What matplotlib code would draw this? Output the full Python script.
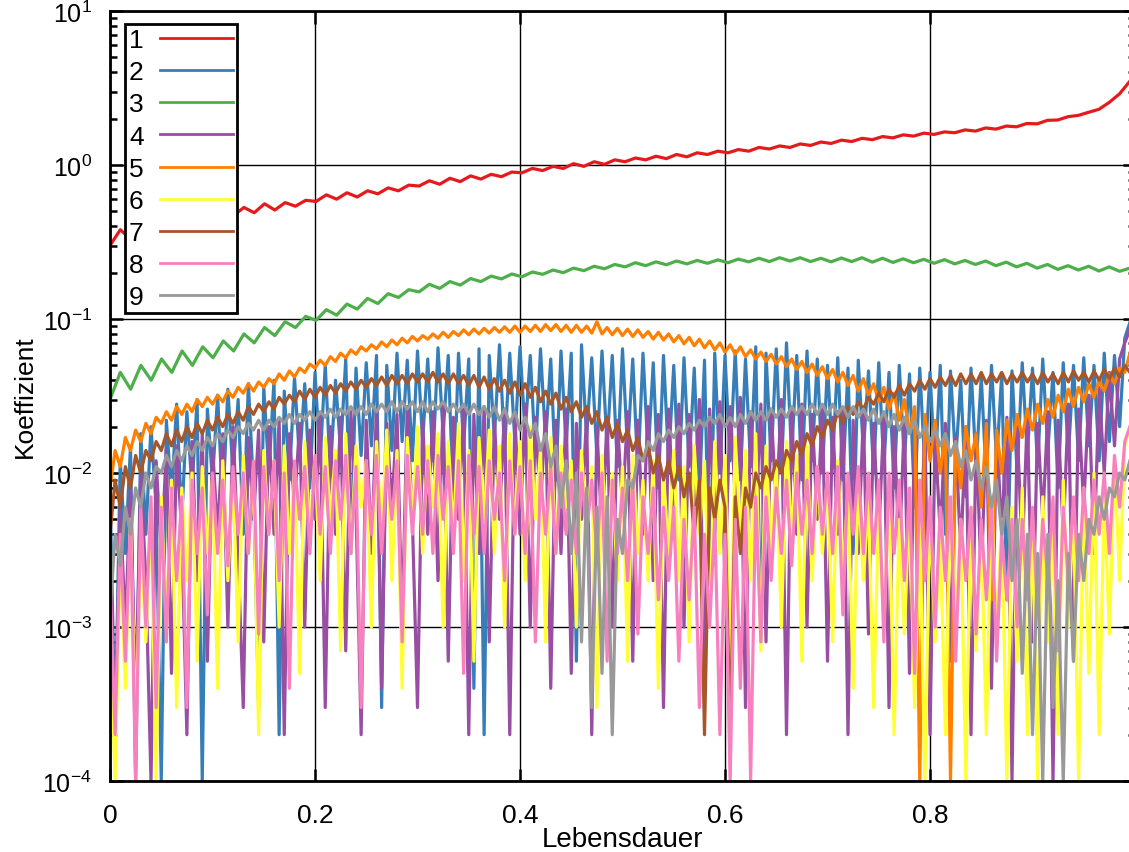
import numpy as np
import matplotlib
matplotlib.use("Agg")
import matplotlib.pyplot as plt

plt.rcParams['font.family'] = ['Liberation Sans', 'DejaVu Sans']
plt.rcParams['mathtext.fontset'] = 'custom'
plt.rcParams['mathtext.rm'] = 'Liberation Sans'
plt.rcParams['mathtext.it'] = 'Liberation Sans:italic'
plt.rcParams['mathtext.bf'] = 'Liberation Sans:bold'

# sample positions (Lebensdauer): coarse grid for the smooth curves, fine grid for the noisy ones
lebensdauer_grob = np.linspace(0.0, 0.995, 100)
lebensdauer_fein = np.linspace(0.0, 0.995, 200)

labels = ["1", "2", "3", "4", "5", "6", "7", "8", "9"]
colors = ["#e41a1c", "#377eb8", "#4daf4a", "#984ea3", "#ff7f00",
          "#ffff33", "#a65628", "#f781bf", "#999999"]

s1 = [0.30, 0.38, 0.33, 0.41, 0.36, 0.44, 0.39, 0.46, 0.42, 0.47,
      0.45, 0.52, 0.47, 0.53, 0.49, 0.56, 0.51, 0.57, 0.54, 0.59,
      0.58, 0.64, 0.60, 0.66, 0.62, 0.68, 0.65, 0.71, 0.68, 0.74,
      0.73, 0.79, 0.75, 0.82, 0.78, 0.85, 0.81, 0.87, 0.84, 0.90,
      0.89, 0.95, 0.92, 0.98, 0.95, 1.02, 0.98, 1.05, 1.01, 1.08,
      1.05, 1.11, 1.08, 1.14, 1.10, 1.17, 1.13, 1.20, 1.17, 1.23,
      1.20, 1.26, 1.23, 1.30, 1.27, 1.33, 1.30, 1.37, 1.34, 1.41,
      1.38, 1.45, 1.42, 1.49, 1.46, 1.53, 1.50, 1.57, 1.54, 1.61,
      1.58, 1.64, 1.62, 1.69, 1.66, 1.74, 1.71, 1.79, 1.77, 1.86,
      1.85, 1.95, 1.96, 2.06, 2.10, 2.20, 2.30, 2.55, 2.90, 3.50]

s3 = [0.030, 0.045, 0.035, 0.050, 0.040, 0.055, 0.045, 0.062, 0.050, 0.066,
      0.056, 0.072, 0.062, 0.080, 0.070, 0.088, 0.078, 0.096, 0.088, 0.104,
      0.098, 0.115, 0.106, 0.125, 0.116, 0.136, 0.126, 0.146, 0.138, 0.155,
      0.150, 0.168, 0.158, 0.175, 0.166, 0.183, 0.175, 0.190, 0.182, 0.196,
      0.188, 0.202, 0.195, 0.208, 0.200, 0.214, 0.206, 0.220, 0.212, 0.226,
      0.218, 0.232, 0.222, 0.235, 0.225, 0.238, 0.228, 0.240, 0.230, 0.242,
      0.232, 0.245, 0.235, 0.248, 0.236, 0.250, 0.238, 0.250, 0.236, 0.248,
      0.235, 0.249, 0.236, 0.250, 0.234, 0.248, 0.233, 0.246, 0.232, 0.244,
      0.230, 0.243, 0.228, 0.240, 0.226, 0.238, 0.222, 0.234, 0.218, 0.230,
      0.214, 0.226, 0.210, 0.222, 0.208, 0.220, 0.205, 0.218, 0.204, 0.214]

s2 = [0.008, 0.0002, 0.012, 0.003, 0.015, 0.0001, 0.018, 0.004, 0.020, 0.006,
      0.0001, 0.022, 0.007, 0.028, 0.005, 0.025, 0.008, 0.030, 0.0001, 0.026,
      0.009, 0.032, 0.006, 0.035, 0.010, 0.030, 0.004, 0.038, 0.008, 0.0003,
      0.036, 0.010, 0.040, 0.0002, 0.034, 0.009, 0.042, 0.012, 0.038, 0.008,
      0.045, 0.012, 0.050, 0.010, 0.040, 0.014, 0.055, 0.003, 0.048, 0.013,
      0.052, 0.015, 0.058, 0.0003, 0.050, 0.014, 0.060, 0.016, 0.054, 0.012,
      0.062, 0.016, 0.055, 0.012, 0.065, 0.018, 0.058, 0.006, 0.060, 0.015,
      0.055, 0.0004, 0.064, 0.0002, 0.058, 0.017, 0.068, 0.014, 0.060, 0.016,
      0.066, 0.018, 0.058, 0.013, 0.064, 0.016, 0.055, 0.009, 0.062, 0.015,
      0.060, 0.0006, 0.068, 0.017, 0.056, 0.013, 0.062, 0.015, 0.058, 0.011,
      0.064, 0.014, 0.055, 0.010, 0.060, 0.013, 0.052, 0.008, 0.058, 0.012,
      0.050, 0.009, 0.056, 0.011, 0.048, 0.007, 0.054, 0.0015, 0.060, 0.010,
      0.058, 0.012, 0.062, 0.009, 0.055, 0.011, 0.066, 0.0008, 0.060, 0.012,
      0.064, 0.010, 0.070, 0.013, 0.058, 0.009, 0.062, 0.012, 0.055, 0.010,
      0.050, 0.012, 0.056, 0.009, 0.048, 0.003, 0.054, 0.014, 0.046, 0.010,
      0.052, 0.011, 0.045, 0.008, 0.050, 0.012, 0.044, 0.006, 0.048, 0.011,
      0.045, 0.010, 0.050, 0.004, 0.046, 0.012, 0.040, 0.007, 0.048, 0.011,
      0.042, 0.009, 0.050, 0.012, 0.044, 0.0015, 0.046, 0.010, 0.052, 0.013,
      0.048, 0.011, 0.055, 0.014, 0.045, 0.008, 0.052, 0.013, 0.050, 0.012,
      0.056, 0.015, 0.050, 0.012, 0.060, 0.016, 0.058, 0.020, 0.075, 0.095]

s4 = [0.003, 0.0002, 0.006, 0.001, 0.008, 0.0003, 0.010, 0.002, 0.0001, 0.012,
      0.003, 0.014, 0.0005, 0.015, 0.004, 0.0002, 0.016, 0.002, 0.018, 0.0006,
      0.015, 0.004, 0.018, 0.001, 0.020, 0.003, 0.0003, 0.017, 0.005, 0.019,
      0.0008, 0.020, 0.004, 0.022, 0.0002, 0.018, 0.006, 0.021, 0.001, 0.019,
      0.005, 0.024, 0.0003, 0.020, 0.004, 0.023, 0.0007, 0.025, 0.006, 0.0002,
      0.022, 0.003, 0.026, 0.0004, 0.021, 0.006, 0.024, 0.001, 0.027, 0.005,
      0.0003, 0.022, 0.004, 0.025, 0.002, 0.028, 0.0006, 0.023, 0.005, 0.026,
      0.0002, 0.024, 0.003, 0.027, 0.0008, 0.022, 0.005, 0.026, 0.0002, 0.024,
      0.004, 0.028, 0.001, 0.023, 0.006, 0.025, 0.0004, 0.022, 0.003, 0.026,
      0.0005, 0.021, 0.005, 0.024, 0.0002, 0.020, 0.004, 0.023, 0.001, 0.022,
      0.006, 0.025, 0.0006, 0.022, 0.004, 0.027, 0.002, 0.024, 0.0003, 0.026,
      0.005, 0.028, 0.001, 0.024, 0.006, 0.030, 0.0004, 0.026, 0.004, 0.029,
      0.002, 0.027, 0.007, 0.031, 0.0003, 0.025, 0.005, 0.028, 0.0008, 0.026,
      0.006, 0.030, 0.0002, 0.025, 0.004, 0.028, 0.001, 0.024, 0.005, 0.027,
      0.0006, 0.023, 0.004, 0.026, 0.0002, 0.022, 0.003, 0.024, 0.0009, 0.021,
      0.004, 0.023, 0.0003, 0.020, 0.003, 0.022, 0.0005, 0.019, 0.002, 0.021,
      0.0002, 0.018, 0.004, 0.021, 0.0006, 0.017, 0.003, 0.020, 0.0002, 0.018,
      0.002, 0.022, 0.0004, 0.019, 0.004, 0.023, 0.0001, 0.020, 0.003, 0.024,
      0.0008, 0.021, 0.005, 0.025, 0.0001, 0.022, 0.004, 0.028, 0.0006, 0.026,
      0.006, 0.032, 0.003, 0.036, 0.010, 0.045, 0.015, 0.055, 0.070, 0.085]

s5 = [0.008, 0.014, 0.011, 0.017, 0.014, 0.019, 0.016, 0.021, 0.018, 0.023,
      0.021, 0.025, 0.022, 0.027, 0.024, 0.028, 0.025, 0.030, 0.027, 0.031,
      0.028, 0.032, 0.029, 0.034, 0.031, 0.036, 0.033, 0.038, 0.034, 0.039,
      0.036, 0.041, 0.038, 0.044, 0.040, 0.046, 0.042, 0.048, 0.045, 0.051,
      0.048, 0.054, 0.050, 0.057, 0.053, 0.060, 0.056, 0.063, 0.059, 0.066,
      0.062, 0.068, 0.064, 0.071, 0.066, 0.073, 0.068, 0.075, 0.070, 0.077,
      0.072, 0.078, 0.074, 0.080, 0.075, 0.082, 0.076, 0.083, 0.078, 0.085,
      0.079, 0.086, 0.080, 0.087, 0.081, 0.088, 0.082, 0.089, 0.082, 0.090,
      0.082, 0.090, 0.083, 0.091, 0.083, 0.092, 0.084, 0.092, 0.083, 0.091,
      0.082, 0.091, 0.082, 0.090, 0.081, 0.096, 0.080, 0.088, 0.079, 0.087,
      0.078, 0.086, 0.077, 0.085, 0.076, 0.083, 0.074, 0.082, 0.073, 0.080,
      0.071, 0.078, 0.069, 0.076, 0.067, 0.074, 0.065, 0.072, 0.063, 0.070,
      0.061, 0.068, 0.059, 0.066, 0.057, 0.063, 0.055, 0.061, 0.053, 0.059,
      0.051, 0.057, 0.049, 0.055, 0.047, 0.053, 0.045, 0.051, 0.043, 0.049,
      0.041, 0.047, 0.039, 0.045, 0.037, 0.043, 0.034, 0.041, 0.032, 0.038,
      0.029, 0.036, 0.026, 0.033, 0.022, 0.030, 0.018, 0.027, 0.0001, 0.024,
      0.012, 0.022, 0.010, 0.018, 0.0001, 0.016, 0.008, 0.020, 0.012, 0.018,
      0.006, 0.021, 0.0015, 0.019, 0.010, 0.022, 0.014, 0.024, 0.017, 0.026,
      0.019, 0.028, 0.021, 0.030, 0.023, 0.032, 0.025, 0.035, 0.027, 0.036,
      0.029, 0.038, 0.031, 0.040, 0.034, 0.044, 0.038, 0.048, 0.045, 0.060]

s6 = [0.001, 0.0001, 0.003, 0.0004, 0.005, 0.0002, 0.004, 0.0008, 0.006, 0.0001,
      0.007, 0.001, 0.009, 0.0003, 0.008, 0.002, 0.010, 0.0006, 0.011, 0.003,
      0.009, 0.0004, 0.012, 0.002, 0.010, 0.0008, 0.013, 0.003, 0.011, 0.0002,
      0.014, 0.004, 0.012, 0.001, 0.015, 0.003, 0.011, 0.0005, 0.016, 0.004,
      0.013, 0.002, 0.017, 0.005, 0.014, 0.0007, 0.018, 0.003, 0.015, 0.006,
      0.012, 0.001, 0.016, 0.004, 0.019, 0.002, 0.014, 0.0004, 0.017, 0.005,
      0.020, 0.003, 0.015, 0.006, 0.018, 0.001, 0.016, 0.004, 0.021, 0.002,
      0.014, 0.0006, 0.017, 0.005, 0.019, 0.003, 0.015, 0.001, 0.018, 0.004,
      0.016, 0.002, 0.020, 0.005, 0.014, 0.0008, 0.017, 0.003, 0.015, 0.006,
      0.012, 0.001, 0.014, 0.004, 0.011, 0.0003, 0.013, 0.003, 0.010, 0.002,
      0.011, 0.0006, 0.013, 0.003, 0.009, 0.002, 0.012, 0.0004, 0.010, 0.003,
      0.014, 0.002, 0.011, 0.0008, 0.015, 0.004, 0.012, 0.001, 0.016, 0.003,
      0.013, 0.0005, 0.017, 0.004, 0.014, 0.002, 0.018, 0.0007, 0.015, 0.003,
      0.012, 0.001, 0.016, 0.004, 0.013, 0.0006, 0.015, 0.002, 0.011, 0.003,
      0.010, 0.0008, 0.012, 0.002, 0.008, 0.0004, 0.009, 0.002, 0.007, 0.0003,
      0.006, 0.001, 0.008, 0.0002, 0.005, 0.0009, 0.007, 0.0003, 0.005, 0.0001,
      0.006, 0.0008, 0.004, 0.0002, 0.007, 0.001, 0.005, 0.0001, 0.006, 0.0007,
      0.004, 0.0002, 0.007, 0.0009, 0.005, 0.0001, 0.006, 0.0006, 0.008, 0.0002,
      0.005, 0.0001, 0.007, 0.0008, 0.004, 0.0002, 0.009, 0.001, 0.006, 0.0001,
      0.008, 0.0005, 0.010, 0.0002, 0.007, 0.0009, 0.012, 0.002, 0.015, 0.020]

s7 = [0.004, 0.009, 0.006, 0.011, 0.008, 0.013, 0.010, 0.014, 0.012, 0.016,
      0.014, 0.018, 0.015, 0.019, 0.016, 0.020, 0.017, 0.021, 0.018, 0.022,
      0.019, 0.023, 0.020, 0.024, 0.021, 0.025, 0.022, 0.027, 0.024, 0.028,
      0.025, 0.029, 0.026, 0.031, 0.028, 0.032, 0.029, 0.034, 0.030, 0.035,
      0.031, 0.036, 0.032, 0.037, 0.033, 0.038, 0.034, 0.039, 0.035, 0.040,
      0.036, 0.041, 0.037, 0.042, 0.037, 0.043, 0.038, 0.043, 0.038, 0.044,
      0.039, 0.044, 0.039, 0.045, 0.039, 0.044, 0.038, 0.044, 0.038, 0.043,
      0.037, 0.043, 0.036, 0.042, 0.035, 0.041, 0.034, 0.040, 0.033, 0.039,
      0.032, 0.038, 0.031, 0.036, 0.029, 0.034, 0.028, 0.033, 0.026, 0.031,
      0.025, 0.029, 0.023, 0.027, 0.021, 0.025, 0.019, 0.023, 0.017, 0.021,
      0.016, 0.019, 0.014, 0.017, 0.012, 0.015, 0.010, 0.013, 0.009, 0.012,
      0.008, 0.011, 0.007, 0.010, 0.004, 0.009, 0.0002, 0.008, 0.005, 0.009,
      0.006, 0.0002, 0.007, 0.003, 0.008, 0.006, 0.010, 0.008, 0.011, 0.009,
      0.012, 0.010, 0.014, 0.012, 0.016, 0.013, 0.018, 0.015, 0.020, 0.017,
      0.022, 0.019, 0.025, 0.021, 0.027, 0.024, 0.029, 0.026, 0.031, 0.028,
      0.033, 0.029, 0.035, 0.031, 0.037, 0.032, 0.038, 0.034, 0.040, 0.035,
      0.041, 0.036, 0.042, 0.037, 0.043, 0.037, 0.044, 0.038, 0.044, 0.038,
      0.045, 0.038, 0.044, 0.039, 0.045, 0.038, 0.044, 0.039, 0.045, 0.039,
      0.044, 0.038, 0.045, 0.039, 0.044, 0.038, 0.045, 0.039, 0.046, 0.040,
      0.045, 0.039, 0.046, 0.040, 0.047, 0.041, 0.048, 0.042, 0.050, 0.045]

s8 = [0.002, 0.0002, 0.004, 0.0006, 0.005, 0.0001, 0.006, 0.001, 0.007, 0.0003,
      0.006, 0.0008, 0.008, 0.002, 0.007, 0.0003, 0.009, 0.003, 0.008, 0.0012,
      0.010, 0.003, 0.009, 0.0025, 0.011, 0.004, 0.010, 0.003, 0.012, 0.0009,
      0.011, 0.004, 0.012, 0.002, 0.010, 0.0004, 0.012, 0.005, 0.011, 0.003,
      0.013, 0.004, 0.011, 0.003, 0.012, 0.005, 0.013, 0.003, 0.011, 0.0003,
      0.012, 0.004, 0.013, 0.003, 0.011, 0.005, 0.012, 0.0008, 0.013, 0.004,
      0.011, 0.004, 0.012, 0.003, 0.013, 0.005, 0.011, 0.003, 0.012, 0.0005,
      0.013, 0.004, 0.011, 0.003, 0.012, 0.005, 0.010, 0.002, 0.012, 0.004,
      0.011, 0.003, 0.012, 0.0008, 0.010, 0.004, 0.011, 0.003, 0.010, 0.004,
      0.009, 0.003, 0.010, 0.004, 0.009, 0.003, 0.010, 0.0006, 0.009, 0.003,
      0.008, 0.002, 0.009, 0.0009, 0.007, 0.003, 0.008, 0.0015, 0.006, 0.002,
      0.006, 0.0006, 0.005, 0.0015, 0.006, 0.0003, 0.004, 0.001, 0.005, 0.0002,
      0.004, 0.0001, 0.005, 0.0004, 0.006, 0.0001, 0.007, 0.0008, 0.007, 0.002,
      0.008, 0.003, 0.009, 0.0025, 0.010, 0.004, 0.009, 0.003, 0.011, 0.004,
      0.010, 0.003, 0.011, 0.0012, 0.010, 0.004, 0.011, 0.003, 0.010, 0.003,
      0.009, 0.0008, 0.010, 0.003, 0.009, 0.002, 0.008, 0.0005, 0.009, 0.002,
      0.007, 0.001, 0.006, 0.002, 0.007, 0.0006, 0.005, 0.002, 0.006, 0.0009,
      0.005, 0.0015, 0.006, 0.0006, 0.004, 0.0015, 0.005, 0.001, 0.005, 0.0015,
      0.006, 0.0012, 0.005, 0.002, 0.007, 0.0007, 0.006, 0.002, 0.007, 0.002,
      0.008, 0.003, 0.009, 0.004, 0.010, 0.003, 0.013, 0.006, 0.016, 0.020]

s9 = [0.0012, 0.004, 0.0025, 0.006, 0.004, 0.008, 0.006, 0.010, 0.008, 0.011,
      0.010, 0.013, 0.011, 0.014, 0.012, 0.015, 0.013, 0.016, 0.014, 0.017,
      0.015, 0.018, 0.016, 0.019, 0.017, 0.020, 0.018, 0.021, 0.019, 0.022,
      0.019, 0.022, 0.020, 0.023, 0.021, 0.024, 0.021, 0.024, 0.022, 0.025,
      0.022, 0.025, 0.023, 0.026, 0.023, 0.026, 0.024, 0.027, 0.024, 0.027,
      0.024, 0.028, 0.025, 0.028, 0.025, 0.029, 0.025, 0.029, 0.026, 0.029,
      0.025, 0.029, 0.025, 0.029, 0.026, 0.029, 0.025, 0.028, 0.025, 0.028,
      0.024, 0.028, 0.024, 0.027, 0.023, 0.027, 0.022, 0.026, 0.021, 0.025,
      0.019, 0.023, 0.017, 0.021, 0.014, 0.018, 0.011, 0.015, 0.006, 0.012,
      0.003, 0.010, 0.0008, 0.008, 0.0003, 0.006, 0.0005, 0.007, 0.0002, 0.005,
      0.003, 0.009, 0.008, 0.013, 0.012, 0.016, 0.014, 0.018, 0.016, 0.019,
      0.017, 0.020, 0.018, 0.021, 0.019, 0.022, 0.020, 0.023, 0.021, 0.024,
      0.020, 0.023, 0.020, 0.024, 0.021, 0.025, 0.022, 0.025, 0.022, 0.026,
      0.023, 0.026, 0.023, 0.027, 0.024, 0.027, 0.024, 0.028, 0.024, 0.028,
      0.024, 0.028, 0.024, 0.027, 0.023, 0.027, 0.023, 0.026, 0.022, 0.026,
      0.021, 0.025, 0.020, 0.024, 0.019, 0.023, 0.018, 0.022, 0.017, 0.020,
      0.016, 0.019, 0.015, 0.018, 0.013, 0.016, 0.011, 0.014, 0.009, 0.012,
      0.008, 0.011, 0.006, 0.009, 0.004, 0.007, 0.002, 0.005, 0.0005, 0.004,
      0.0002, 0.003, 0.0001, 0.004, 0.0003, 0.002, 0.0001, 0.003, 0.0006, 0.004,
      0.002, 0.005, 0.004, 0.007, 0.005, 0.008, 0.007, 0.010, 0.009, 0.012]

series = [s1, s2, s3, s4, s5, s6, s7, s8, s9]

W, H = 1129, 853
fig = plt.figure(figsize=(W / 100, H / 100), dpi=100)
ax = fig.add_axes([110 / W, 1 - 782 / H, 1025 / W, 770 / H])

for lab, col, ys in zip(labels, colors, series):
    xs = lebensdauer_grob if len(ys) == len(lebensdauer_grob) else lebensdauer_fein
    ax.plot(xs, ys, color=col, lw=2.3, label=lab)

ax.set_yscale('log')
ax.set_ylim(1e-4, 10)
ax.set_xlim(0, 1.0)
ax.set_xticks([0, 0.2, 0.4, 0.6, 0.8])
ax.set_xticklabels(["0", "0.2", "0.4", "0.6", "0.8"])

ax.grid(True, which='major', color='black', lw=1.0)
for sp in ax.spines.values():
    sp.set_linewidth(2.0)
ax.tick_params(which='both', direction='in', top=True, right=True, width=1.8)
ax.tick_params(which='major', length=9)
ax.tick_params(which='minor', length=5)
ax.tick_params(axis='x', pad=16, labelsize=19)
ax.tick_params(axis='y', pad=13, labelsize=18)

ax.set_xlabel("Lebensdauer", fontsize=20, labelpad=-1)
ax.set_ylabel("Koeffizient", fontsize=19, labelpad=4)

leg = ax.legend(loc='upper left', bbox_to_anchor=(0.0146, 0.983),
                fontsize=19, markerfirst=False, handlelength=2.8,
                handletextpad=0.6, borderpad=0.15, labelspacing=0.31,
                borderaxespad=0.0, fancybox=False, framealpha=1.0)
leg.get_frame().set_edgecolor('black')
leg.get_frame().set_linewidth(2.0)
for line in leg.get_lines():
    line.set_linewidth(2.0)

fig.savefig("out.png", dpi=100)
